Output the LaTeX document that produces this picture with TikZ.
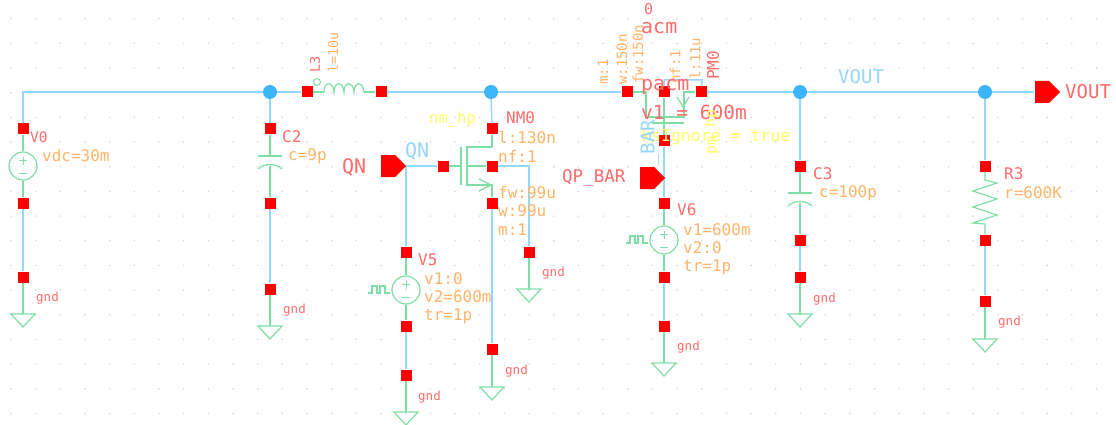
\documentclass[tikz,border=0pt]{standalone}
\usepackage{fontspec}
\setmainfont{DejaVu Sans Mono}
\definecolor{wireblue}{HTML}{96D8FD}
\definecolor{dotblue}{HTML}{3DB5FB}
\definecolor{symgreen}{HTML}{7FDDA6}
\definecolor{namered}{HTML}{FF6B6B}
\definecolor{parorange}{HTML}{FFB469}
\definecolor{propyellow}{HTML}{FFFF66}
\definecolor{griddot}{HTML}{D2D2D2}
\tikzset{
  wire/.style={draw=wireblue,line width=1.5pt},
  sym/.style={draw=symgreen,line width=1.2pt},
  pin/.style={rectangle,fill=red,minimum size=11pt,inner sep=0pt},
  junction/.style={circle,fill=dotblue,minimum size=14pt,inner sep=0pt},
  vsrc/.style={circle,draw=symgreen,line width=1.2pt,minimum size=28pt,inner sep=0pt},
  term/.style={fill=red},
  lab/.style={anchor=west,inner sep=0pt},
  rname/.style={lab,text=namered,font=\fontsize{16}{16}\selectfont},
  rbig/.style={lab,text=namered,font=\fontsize{20}{20}\selectfont},
  rgnd/.style={lab,text=namered,font=\fontsize{12.5}{13}\selectfont},
  par/.style={lab,text=parorange,font=\fontsize{16}{16}\selectfont},
  parv/.style={par,rotate=90,font=\fontsize{14}{14}\selectfont},
  net/.style={lab,text=wireblue,font=\fontsize{19}{19}\selectfont},
  prop/.style={lab,text=propyellow,font=\fontsize{16.5}{17}\selectfont}
}
\newcommand{\gndsym}[1]{\draw[sym] (#1) -- ++(-12,0) -- ++(12,13) -- ++(12,-13) -- cycle;}
\newcommand{\pulsesym}[1]{\draw[sym] (#1) -- ++(4,0) -- ++(0,-7) -- ++(5,0) -- ++(0,7) -- ++(3,0) -- ++(0,-7) -- ++(5,0) -- ++(0,7) -- ++(5,0);}
\newcommand{\termsym}[1]{\fill[term] (#1) -- ++(-11,-11) -- ++(-14,0) -- ++(0,22) -- ++(14,0) -- cycle;}
\newcommand{\pmsym}[1]{\draw[sym,line width=.9pt] (#1) ++(-4,-5.5) -- ++(8,0) (#1) ++(0,-9.5) -- ++(0,8) (#1) ++(-4,7) -- ++(8,0);}
\begin{document}
\begin{tikzpicture}[x=1pt,y=-1pt]
\useasboundingbox (0,0) rectangle (1116,425);
\fill[white] (0,0) rectangle (1116,425);
\foreach \i in {0,...,44}
  \foreach \j in {0,...,16}
    \fill[griddot] (11+24.67*\i,18.7+24.67*\j) circle (0.8);

\coordinate (corner) at (23,92);
\coordinate (vout) at (1060,92);
\node[junction] (j1) at (270,92) {};
\node[junction] (j2) at (491,92) {};
\node[junction] (j3) at (800,92) {};
\node[junction] (j4) at (985,92) {};

\node[pin] (pv0a) at (23,129) {};
\node[vsrc] (v0) at (23,166) {};
\node[pin] (pv0b) at (23,203) {};
\node[pin] (pv0c) at (23,277) {};
\coordinate (g0) at (23,314);

\node[pin] (pc2a) at (270,129) {};
\coordinate (c2t) at (270,156);
\coordinate (c2b) at (270,166);
\node[pin] (pc2b) at (270,203) {};
\node[pin] (pc2c) at (270,289) {};
\coordinate (g2) at (270,326);

\node[pin] (pl3a) at (307,92) {};
\node[pin] (pl3b) at (381,92) {};
\coordinate (l3a) at (324,92);
\coordinate (l3b) at (364,92);
\node[circle,draw=symgreen,line width=1pt,minimum size=7pt,inner sep=0pt] (l3dot) at (317,82) {};

\node[pin] (pnd) at (492,129) {};
\node[pin] (png) at (443,166) {};
\node[pin] (pnb) at (492,166) {};
\node[pin] (pns) at (492,203) {};
\node[pin] (pnsb) at (492,349) {};
\coordinate (gn) at (492,387);
\coordinate (bulkc) at (529,166);
\node[pin] (pbulk) at (529,252) {};
\coordinate (gb) at (529,289);

\coordinate (qn) at (406,166);
\node[pin] (pv5a) at (406,252) {};
\node[vsrc] (v5) at (406,290) {};
\node[pin] (pv5b) at (406,326) {};
\node[pin] (pv5c) at (406,375) {};
\coordinate (g5) at (406,412);

\node[pin] (ppg) at (627,92) {};
\node[pin] (ppb) at (664,92) {};
\node[pin] (pps) at (701,92) {};
\node[pin] (ppd) at (664,141) {};
\coordinate (qp) at (665,178);
\node[pin] (pv6a) at (664,203) {};
\node[vsrc] (v6) at (664,240) {};
\node[pin] (pv6b) at (664,277) {};
\node[pin] (pv6c) at (664,326) {};
\coordinate (g6) at (664,363);

\node[pin] (pc3a) at (800,166) {};
\coordinate (c3t) at (800,193);
\coordinate (c3b) at (800,203);
\node[pin] (pc3b) at (800,240) {};
\node[pin] (pc3c) at (800,277) {};
\coordinate (g3) at (800,314);

\node[pin] (pr3a) at (985,166) {};
\coordinate (r3t) at (985,180);
\coordinate (r3b) at (985,224);
\node[pin] (pr3b) at (985,240) {};
\node[pin] (pr3c) at (985,301) {};
\coordinate (g4) at (985,339);

\draw[wire] (pv0a) -- (corner) -- (j1) -- (pl3a);
\draw[wire] (pl3b) -- (j2) -- (ppg);
\draw[wire] (pps) -- (j3) -- (j4) -- (1034,92);
\draw[wire] (ppb) -- (664,80) -- (702,80) -- (pps);
\draw[wire] (pv0b) -- (pv0c);
\draw[wire] (j1) -- (pc2a);
\draw[wire] (pc2b) -- (pc2c);
\draw[wire] (j2) -- (pnd);
\draw[wire] (pns) -- (pnsb);
\draw[wire] (pnb) -- (bulkc) -- (pbulk);
\draw[wire] (qn) -- (png);
\draw[wire] (qn) -- (pv5a);
\draw[wire] (pv5b) -- (pv5c);
\draw[wire] (ppd) -- (pv6a);
\draw[wire] (pv6b) -- (pv6c);
\draw[wire] (j3) -- (pc3a);
\draw[wire] (pc3b) -- (pc3c);
\draw[wire] (j4) -- (pr3a);
\draw[wire] (pr3b) -- (pr3c);

\draw[sym] (pv0a) -- (v0);
\draw[sym] (v0) -- (pv0b);
\pmsym{v0}
\draw[sym] (pv0c) -- (g0);
\gndsym{g0}

\draw[sym] (pc2a) -- (c2t);
\draw[sym] (258,156) -- (282,156);
\draw[sym] (258,169) .. controls (264,163) and (276,163) .. (282,169);
\draw[sym] (c2b) -- (pc2b);
\draw[sym] (pc2c) -- (g2);
\gndsym{g2}

\draw[sym] (pl3a) -- (l3a);
\draw[sym] (l3a) .. controls (324,81) and (333,81) .. (334,92) .. controls (334,81) and (343,81) .. (344,92) .. controls (344,81) and (353,81) .. (354,92) .. controls (354,81) and (363,81) .. (l3b);
\draw[sym] (l3b) -- (pl3b);

\draw[sym] (pnd) -- (492,147) -- (467,147) -- (467,185) -- (492,185) -- (pns);
\draw[sym] (png) -- (461,166);
\draw[sym] (461,147) -- (461,185);
\draw[sym] (467,166) -- (pnb);
\draw[sym] (479,179) -- (491,185) -- (479,191);
\draw[sym] (pbulk) -- (gb);
\gndsym{gb}
\draw[sym] (pnsb) -- (gn);
\gndsym{gn}

\draw[sym] (pv5a) -- (v5);
\draw[sym] (v5) -- (pv5b);
\pmsym{v5}
\draw[sym] (pv5c) -- (g5);
\gndsym{g5}
\pulsesym{368,293}

\draw[sym] (ppg) -- (646,92) -- (646,117) -- (684,117) -- (684,92) -- (pps);
\draw[sym] (ppb) -- (ppd);
\draw[sym] (652,123) -- (684,123);
\draw[sym] (677,97) -- (683,107) -- (689,97);

\draw[sym] (pv6a) -- (v6);
\draw[sym] (v6) -- (pv6b);
\pmsym{v6}
\draw[sym] (pv6c) -- (g6);
\gndsym{g6}
\pulsesym{626,243}

\draw[sym] (pc3a) -- (c3t);
\draw[sym] (788,193) -- (812,193);
\draw[sym] (788,206) .. controls (794,200) and (806,200) .. (812,206);
\draw[sym] (c3b) -- (pc3b);
\draw[sym] (pc3c) -- (g3);
\gndsym{g3}

\draw[sym] (pr3a) -- (r3t) -- (997,183) -- (973,191) -- (997,199) -- (973,207) -- (997,215) -- (973,223) -- (r3b) -- (pr3b);
\draw[sym] (pr3c) -- (g4);
\gndsym{g4}

\termsym{qn}
\termsym{qp}
\termsym{vout}

\node[rname,font=\fontsize{14.5}{15}\selectfont] (lv0) at (30,137) {V0};
\node[par] (lvdc) at (42,156) {vdc=30m};
\node[rgnd] (lg0) at (36,298) {gnd};
\node[rname] (lc2) at (282,137) {C2};
\node[par] (lc9) at (288,156) {c=9p};
\node[rgnd] (lg2) at (283,310) {gnd};
\node[rname,rotate=90,font=\fontsize{13.5}{14}\selectfont] (ll3) at (315,73) {L3};
\node[parv,font=\fontsize{13.5}{14}\selectfont] (ll10) at (333,73) {l=10u};

\node[rname,font=\fontsize{20}{20}\selectfont] (lqn) at (342,167) {QN};
\node[net,font=\fontsize{20}{20}\selectfont] (nqn) at (405,151) {QN};
\node[prop,font=\fontsize{15.5}{16}\selectfont] (lnmhp) at (429,119) {nm\_hp};
\node[rname] (lnm) at (506,118) {NM0};
\node[par] (ln1) at (498,137) {l:130n};
\node[par] (ln2) at (498,156) {nf:1};
\node[par] (ln3) at (498,193) {fw:99u};
\node[par] (ln4) at (498,211) {w:99u};
\node[par] (ln5) at (498,230) {m:1};
\node[rgnd] (lgb) at (542,273) {gnd};
\node[rgnd] (lgn) at (505,371) {gnd};

\node[rname] (lv5) at (418,260) {V5};
\node[par] (l51) at (424,279) {v1:0};
\node[par] (l52) at (424,297) {v2=600m};
\node[par] (l53) at (424,316) {tr=1p};
\node[rgnd] (lg5) at (418,397) {gnd};

\node[rbig,font=\fontsize{15}{15}\selectfont] (lzero) at (644,9) {0};
\node[rbig] (lacm) at (641,28) {acm};
\node[parv] (lp1) at (603,85) {m:1};
\node[parv] (lp2) at (622,85) {w:150n};
\node[parv] (lp3) at (638,84) {fw:150n};
\node[parv] (lp4) at (675,84) {nf:1};
\node[parv] (lp5) at (695,80) {l:11u};
\node[rname,rotate=90] (lpm) at (713,80) {PM0};
\node[rbig] (lpacm) at (641,87) {pacm};
\node[rbig,font=\fontsize{19.5}{20}\selectfont] (lv1) at (641,112) {v1 = 600m};
\node[prop] (lks) at (641,137) {ksIgnore = true};
\node[prop,rotate=90,font=\fontsize{15}{15}\selectfont] (lpmhp) at (712,155) {pm\_hp};
\node[net,rotate=90] (nbar) at (650,166) {\_BAR};
\node[rname,font=\fontsize{17.5}{18}\selectfont] (lqp) at (562,178) {QP\_BAR};

\node[rname] (lv6) at (677,210) {V6};
\node[par] (l61) at (683,230) {v1=600m};
\node[par] (l62) at (683,248) {v2:0};
\node[par] (l63) at (683,267) {tr=1p};
\node[rgnd] (lg6) at (677,347) {gnd};

\node[net] (nvout) at (838,77) {VOUT};
\node[rname] (lc3) at (813,174) {C3};
\node[par] (lc100) at (819,193) {c=100p};
\node[rgnd] (lg3) at (813,299) {gnd};
\node[rname] (lr3) at (1004,174) {R3};
\node[par] (lr600) at (1004,193) {r=600K};
\node[rgnd] (lg4) at (998,322) {gnd};
\node[rname,font=\fontsize{19}{19}\selectfont] (lvout) at (1065,92) {VOUT};
\end{tikzpicture}
\end{document}
